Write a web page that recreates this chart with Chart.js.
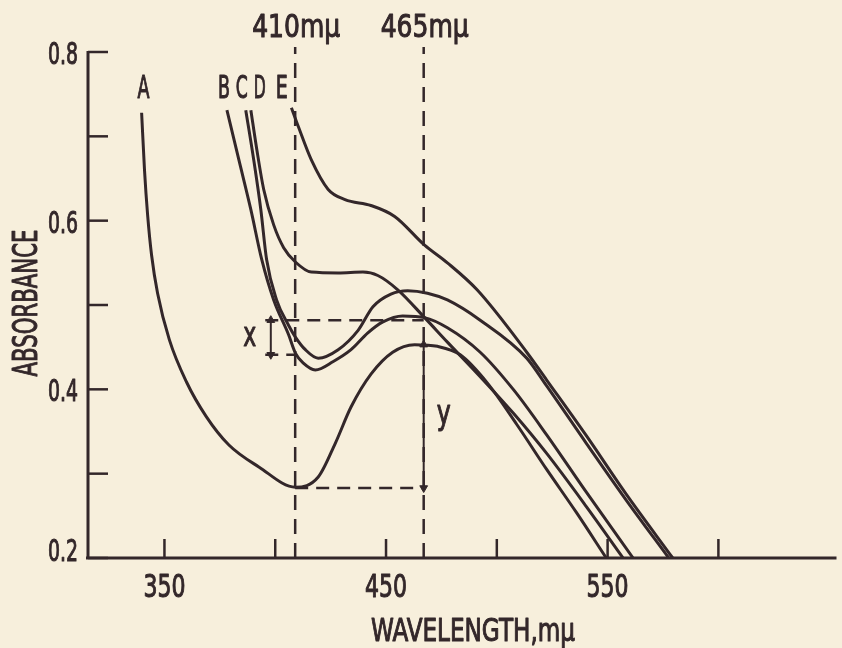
<!DOCTYPE html>
<html>
<head>
<meta charset="utf-8">
<script src="https://cdn.jsdelivr.net/npm/chart.js"></script>
<style>
  html, body { margin: 0; padding: 0; background: #f7efdc; }
  #chart_div { width: 842px; height: 648px; }
</style>
</head>
<body>
<div id="chart_div"><canvas id="absChart" width="842" height="648"></canvas></div>
<script>
// wavelength (m-mu) and absorbance
var wlA  = [339.7, 341.0, 342.4, 344.2, 346.9, 352.2, 359.9, 368.8, 379.1, 392.6, 409.1, 419.4, 427.1, 434.2, 443.2, 453.0, 462.9, 473.2, 483.5, 495.6, 509.1, 522.5, 535.9, 549.4];
var absA = [0.728, 0.660, 0.607, 0.559, 0.514, 0.459, 0.409, 0.368, 0.334, 0.308, 0.284, 0.296, 0.336, 0.379, 0.418, 0.444, 0.453, 0.451, 0.441, 0.408, 0.358, 0.305, 0.254, 0.200];

var wlB  = [378.2, 383.6, 389.0, 393.9, 399.3, 406.0, 409.1, 412.7, 418.1, 426.2, 434.2, 441.8, 448.6, 457.5, 467.4, 477.7, 492.5, 507.7, 522.5, 540.4, 561.5];
var absB = [0.731, 0.672, 0.613, 0.554, 0.506, 0.465, 0.443, 0.431, 0.423, 0.433, 0.447, 0.467, 0.480, 0.487, 0.485, 0.473, 0.444, 0.399, 0.346, 0.278, 0.200];

var wlC  = [386.7, 390.3, 393.5, 396.1, 400.6, 406.0, 409.1, 413.6, 419.4, 428.4, 437.4, 444.1, 452.2, 459.8, 468.7, 477.7, 492.5, 513.5, 522.5, 540.4, 558.3, 577.6];
var absC = [0.731, 0.672, 0.613, 0.554, 0.506, 0.476, 0.462, 0.447, 0.437, 0.447, 0.470, 0.498, 0.513, 0.517, 0.514, 0.506, 0.482, 0.437, 0.404, 0.336, 0.269, 0.200];

var wlD  = [389.0, 391.7, 394.8, 399.3, 403.8, 409.1, 416.3, 428.4, 439.6, 446.3, 455.3, 467.4, 477.7, 492.5, 507.7, 522.5, 540.4, 557.0];
var absD = [0.731, 0.684, 0.637, 0.595, 0.568, 0.551, 0.539, 0.538, 0.539, 0.535, 0.518, 0.485, 0.456, 0.415, 0.371, 0.324, 0.261, 0.200];

var wlE  = [407.3, 410.5, 416.3, 423.9, 431.5, 443.2, 453.9, 467.4, 477.7, 491.1, 513.5, 522.5, 540.4, 558.3, 579.4];
var absE = [0.734, 0.711, 0.672, 0.637, 0.625, 0.618, 0.605, 0.571, 0.550, 0.518, 0.444, 0.411, 0.345, 0.276, 0.200];

var curveNames = ['A', 'B', 'C', 'D', 'E'];
var curveNameWl = [340.6, 376.9, 384.9, 393.0, 402.9];
var curveNameAbs = 0.759;

// the two marked wavelengths and the x / y construction
var markerWl = [409, 467];
var markerText = ['410m\u03bc', '465m\u03bc'];
var markerTop = 0.806;
var peakB465 = 0.482, b410 = 0.441, minA410 = 0.283, peakA465 = 0.453;
var xArrowWl = 398, xDashStart = 395.5;

var xTicks = [350, 400, 450, 500, 550, 600];
var xTickLabels = ['350', '', '450', '', '550', ''];
var yTicks = [0.2, 0.3, 0.4, 0.5, 0.6, 0.7, 0.8];
var yTickLabels = ['0.2', '', '0.4', '', '0.6', '', '0.8'];

var ink = '#33272a';
var fontFam = '"Liberation Sans Narrow", "DejaVu Sans Condensed", "Liberation Sans", sans-serif';

function pts(xs, ys) {
  return xs.map(function (x, i) { return { x: x, y: ys[i] }; });
}

function curve(xs, ys) {
  return {
    data: pts(xs, ys), showLine: true, borderColor: ink, borderWidth: 3,
    pointRadius: 0, cubicInterpolationMode: 'monotone', tension: 0.4, fill: false
  };
}

function dashed(xs, ys, dash) {
  return {
    data: pts(xs, ys), showLine: true, borderColor: ink, borderWidth: 2.5,
    borderDash: dash, pointRadius: 0, tension: 0, clip: false, fill: false
  };
}

function arrow(x, yTop, yBottom) {
  return {
    data: [{ x: x, y: yTop }, { x: x, y: yBottom }], showLine: true, borderColor: ink,
    borderWidth: 2, tension: 0, pointStyle: 'triangle', pointRadius: 4.5,
    pointRotation: [0, 180], pointBackgroundColor: ink, pointBorderColor: ink, pointBorderWidth: 1
  };
}

// squeezed condensed text, centred on cx, sitting on baseline
function txt(ctx, s, cx, base, w, size) {
  ctx.save();
  ctx.font = size + 'px ' + fontFam;
  var m = ctx.measureText(s).width;
  ctx.translate(cx, base);
  ctx.scale(w / m, 1);
  ctx.textAlign = 'center';
  ctx.textBaseline = 'alphabetic';
  ctx.fillStyle = ink;
  ctx.strokeStyle = ink;
  ctx.lineWidth = 1;
  ctx.lineJoin = 'round';
  ctx.fillText(s, 0, 0);
  ctx.strokeText(s, 0, 0);
  ctx.restore();
}

var frame = {
  id: 'frame',
  afterDatasetsDraw: function (chart) {
    var ctx = chart.ctx, a = chart.chartArea;
    var xs = chart.scales.x, ys = chart.scales.y;
    ctx.save();
    ctx.strokeStyle = ink;
    ctx.lineWidth = 3;
    ctx.lineCap = 'butt';
    ctx.beginPath();
    ctx.moveTo(a.left, a.top - 1);
    ctx.lineTo(a.left, a.bottom);
    ctx.moveTo(a.left - 2, a.bottom);
    ctx.lineTo(a.right, a.bottom);
    ctx.stroke();

    ctx.lineWidth = 2.5;
    yTicks.forEach(function (v, i) {
      var py = ys.getPixelForValue(v);
      ctx.beginPath();
      ctx.moveTo(a.left, py);
      ctx.lineTo(a.left + 20, py);
      ctx.stroke();
      if (yTickLabels[i]) txt(ctx, yTickLabels[i], 63, Math.min(py + 12, a.bottom + 3), 30, 31);
    });
    xTicks.forEach(function (v, i) {
      var px = xs.getPixelForValue(v);
      ctx.beginPath();
      ctx.moveTo(px, a.bottom);
      ctx.lineTo(px, a.bottom - 19);
      ctx.stroke();
      if (xTickLabels[i]) txt(ctx, xTickLabels[i], px, a.bottom + 39, 42, 32);
    });

    // axis titles
    txt(ctx, 'WAVELENGTH,m\u03bc', 473, 641, 204, 32);
    ctx.save();
    ctx.translate(37, 303);
    ctx.rotate(-Math.PI / 2);
    txt(ctx, 'ABSORBANCE', 0, 0, 147, 33);
    ctx.restore();

    // curve letters and marked wavelengths
    curveNames.forEach(function (n, i) {
      txt(ctx, n, xs.getPixelForValue(curveNameWl[i]), ys.getPixelForValue(curveNameAbs) + 11, 12, 32);
    });
    markerWl.forEach(function (w, i) {
      txt(ctx, markerText[i], xs.getPixelForValue(w) + 1, 37, 88, 32);
    });
    txt(ctx, 'x', xs.getPixelForValue(xArrowWl) - 21, ys.getPixelForValue((peakB465 + b410) / 2) + 9, 13, 33);
    txt(ctx, 'y', xs.getPixelForValue(markerWl[1]) + 20, ys.getPixelForValue((minA410 + peakA465) / 2) + 8, 14, 34);
    ctx.restore();
  }
};

new Chart(document.getElementById('absChart'), {
  type: 'scatter',
  data: {
    datasets: [
      curve(wlA, absA), curve(wlB, absB), curve(wlC, absC), curve(wlD, absD), curve(wlE, absE),
      dashed([markerWl[0], markerWl[0]], [0.2, markerTop], [15, 9]),
      dashed([markerWl[1], markerWl[1]], [0.2, markerTop], [15, 9]),
      dashed([xDashStart, markerWl[1]], [peakB465, peakB465], [13, 8]),
      dashed([xDashStart, markerWl[0]], [b410, b410], [13, 8]),
      dashed([markerWl[0], markerWl[1]], [minA410, minA410], [13, 8]),
      arrow(xArrowWl, peakB465, b410),
      arrow(markerWl[1], peakA465, minA410)
    ]
  },
  options: {
    responsive: false,
    animation: false,
    events: [],
    layout: { padding: { left: 88, top: 52, right: 0, bottom: 90 } },
    plugins: { legend: { display: false }, tooltip: { enabled: false } },
    scales: {
      x: { type: 'linear', min: 315.5, max: 653.3, display: false },
      y: { min: 0.2, max: 0.8, display: false }
    }
  },
  plugins: [frame]
});
</script>
</body>
</html>
